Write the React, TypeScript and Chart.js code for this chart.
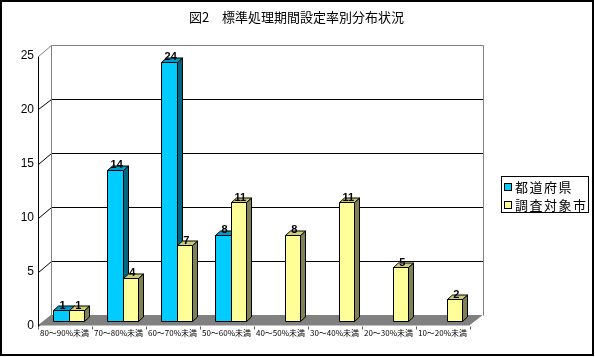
import React, { useEffect, useRef } from "react";
import { Chart, registerables } from "chart.js";

Chart.register(...registerables);

const titleText = "図2　標準処理期間設定率別分布状況";
const categories = [
  "80～90%未満",
  "70～80%未満",
  "60～70%未満",
  "50～60%未満",
  "40～50%未満",
  "30～40%未満",
  "20～30%未満",
  "10～20%未満",
];
const seriesNames = ["都道府県", "調査対象市"];
const prefectures = [1, 14, 24, 8, 0, 0, 0, 0];
const cities = [1, 4, 7, 11, 8, 11, 5, 2];
const yTicks = [0, 5, 10, 15, 20, 25];

const frontColors = ["#00CCFF", "#FFFF99"];
const sideColors = ["#006680", "#808055"];
const topColors = ["#0099CC", "#CCCC77"];

// oblique offsets for the 3D look
const FX = -4;
const FY = 4.5;
const BX = 9.5;
const BY = -6;
const BAR_DX = 5;
const BAR_DY = -4.5;

const px = (v: number) => Math.round(v) + 0.5;

function line(ctx: CanvasRenderingContext2D, x1: number, y1: number, x2: number, y2: number, color: string) {
  ctx.beginPath();
  ctx.strokeStyle = color;
  ctx.moveTo(x1, y1);
  ctx.lineTo(x2, y2);
  ctx.stroke();
}

function poly(ctx: CanvasRenderingContext2D, pts: number[][], fill: string) {
  ctx.beginPath();
  ctx.moveTo(pts[0][0], pts[0][1]);
  for (let i = 1; i < pts.length; i++) ctx.lineTo(pts[i][0], pts[i][1]);
  ctx.closePath();
  ctx.fillStyle = fill;
  ctx.fill();
  ctx.strokeStyle = "#000";
  ctx.lineWidth = 1;
  ctx.stroke();
}

const threeD = {
  id: "threeD",
  beforeDatasetsDraw(chart: any) {
    const { ctx, chartArea: ca, scales } = chart;
    const y = scales.y;
    const L = ca.left;
    const R = ca.right;
    const B = y.getPixelForValue(yTicks[0]);
    const T = y.getPixelForValue(yTicks[yTicks.length - 1]);
    ctx.save();
    ctx.lineWidth = 1;
    // back wall
    ctx.fillStyle = "#FFFFFF";
    ctx.fillRect(L + BX, T + BY, R - L, B - T);
    // back gridlines
    yTicks.forEach((v, i) => {
      if (i === 0 || i === yTicks.length - 1) return;
      const yy = px(y.getPixelForValue(v) + BY);
      line(ctx, px(L + BX), yy, px(R + BX), yy, "#000");
    });
    // side wall diagonals
    yTicks.forEach((v, i) => {
      const yp = y.getPixelForValue(v);
      line(ctx, px(L + FX), px(yp + FY), px(L + BX), px(yp + BY), i === yTicks.length - 1 ? "#808080" : "#000");
    });
    // floor
    ctx.beginPath();
    ctx.moveTo(L + FX, B + FY);
    ctx.lineTo(R + FX, B + FY);
    ctx.lineTo(R + BX, B + BY);
    ctx.lineTo(L + BX, B + BY);
    ctx.closePath();
    ctx.fillStyle = "#808080";
    ctx.fill();
    // back wall frame
    ctx.beginPath();
    ctx.strokeStyle = "#808080";
    ctx.moveTo(px(L + BX), px(B + BY));
    ctx.lineTo(px(L + BX), px(T + BY));
    ctx.lineTo(px(R + BX), px(T + BY));
    ctx.lineTo(px(R + BX), px(B + BY));
    ctx.stroke();
    // front ticks under floor
    const x = scales.x;
    const cw = x.getPixelForValue(1) - x.getPixelForValue(0);
    for (let i = 0; i <= categories.length; i++) {
      const xb = px(L + i * cw + FX);
      line(ctx, xb, px(B + FY), xb, px(B + FY + 3), "#606060");
    }
    // floor right edge highlight
    line(ctx, R + FX, B + FY + 0.5, R + BX, B + BY + 0.5, "#FFFFFF");
    // front axis line
    line(ctx, px(L + FX), px(T + FY), px(L + FX), px(B + FY), "#000");
    ctx.restore();
  },
  afterDatasetsDraw(chart: any) {
    const { ctx } = chart;
    ctx.save();
    ctx.lineWidth = 1;
    const metas = [chart.getDatasetMeta(0), chart.getDatasetMeta(1)];
    for (let i = 0; i < categories.length; i++) {
      for (let d = 0; d < 2; d++) {
        const value = chart.data.datasets[d].data[i] as number;
        if (!value) continue;
        const el: any = metas[d].data[i];
        const x0 = px(el.x - el.width / 2);
        const x1 = px(el.x + el.width / 2);
        const yT = px(el.y);
        const yB = px(el.base);
        poly(ctx, [[x0, yT], [x1, yT], [x1, yB], [x0, yB]], frontColors[d]);
        poly(ctx, [[x1, yB], [x1 + BAR_DX, yB + BAR_DY], [x1 + BAR_DX, yT + BAR_DY], [x1, yT]], sideColors[d]);
        poly(ctx, [[x0, yT], [x1, yT], [x1 + BAR_DX, yT + BAR_DY], [x0 + BAR_DX, yT + BAR_DY]], topColors[d]);
      }
      for (let d = 0; d < 2; d++) {
        const value = chart.data.datasets[d].data[i] as number;
        if (!value) continue;
        const el: any = metas[d].data[i];
        ctx.fillStyle = "#000";
        ctx.font = "bold 11px 'Liberation Sans', sans-serif";
        ctx.textAlign = "center";
        ctx.textBaseline = "middle";
        ctx.fillText(String(value), el.x + 2, el.y - 4.5);
      }
    }
    ctx.restore();
  },
};

export default function App() {
  const canvasRef = useRef<HTMLCanvasElement | null>(null);

  useEffect(() => {
    if (!canvasRef.current) return;
    const chart = new Chart(canvasRef.current, {
      type: "bar",
      data: {
        labels: categories,
        datasets: [
          {
            label: seriesNames[0],
            data: prefectures,
            backgroundColor: "rgba(0,0,0,0)",
            borderWidth: 0,
            categoryPercentage: 0.58,
            barPercentage: 1,
          },
          {
            label: seriesNames[1],
            data: cities,
            backgroundColor: "rgba(0,0,0,0)",
            borderWidth: 0,
            categoryPercentage: 0.58,
            barPercentage: 1,
          },
        ],
      },
      options: {
        responsive: false,
        animation: false,
        events: [],
        layout: { padding: { left: 0, right: 121.5, top: 51, bottom: 0 } },
        plugins: {
          legend: { display: false },
          title: { display: false },
          tooltip: { enabled: false },
        },
        scales: {
          x: {
            grid: { display: false, drawTicks: false },
            border: { display: false },
            ticks: {
              autoSkip: false,
              maxRotation: 0,
              minRotation: 0,
              padding: 7,
              labelOffset: -4,
              color: "#000",
              font: { family: "'Noto Sans CJK JP', sans-serif", size: 8 },
            },
            afterFit: (s: any) => {
              s.height = 36;
            },
          },
          y: {
            min: 0,
            max: 25,
            grid: { display: false, drawTicks: false },
            border: { display: false },
            ticks: {
              stepSize: 5,
              padding: 7.5,
              labelOffset: 5,
              color: "#000",
              font: { family: "'Liberation Sans', sans-serif", size: 12 },
            },
            afterFit: (s: any) => {
              s.width = 41.5;
            },
          },
        },
      },
      plugins: [threeD],
    });
    return () => chart.destroy();
  }, []);

  const cjk = "'Noto Sans CJK JP', sans-serif";
  return (
    <div style={{ position: "absolute", left: 0, top: 0, width: 595, height: 357, background: "#fff" }}>
      <canvas ref={canvasRef} width={595} height={357} style={{ position: "absolute", left: 0, top: 0 }} />
      <div
        style={{
          position: "absolute",
          left: 0,
          top: 8,
          width: 593,
          textAlign: "center",
          fontFamily: cjk,
          fontSize: 13,
          lineHeight: "18px",
          color: "#000",
        }}
      >
        {titleText}
      </div>
      <div
        style={{
          position: "absolute",
          left: 501,
          top: 176,
          width: 88,
          height: 37,
          boxSizing: "border-box",
          border: "1px solid #000",
          background: "#fff",
          fontFamily: cjk,
          fontSize: 13,
          color: "#000",
        }}
      >
        {seriesNames.map((name, i) => (
          <div
            key={name}
            style={{
              position: "absolute",
              left: 2,
              top: 1 + i * 18,
              height: 18,
              display: "flex",
              alignItems: "center",
              whiteSpace: "nowrap",
              letterSpacing: 1.5,
              lineHeight: "18px",
            }}
          >
            <span
              style={{
                display: "inline-block",
                width: 6,
                height: 6,
                border: "1px solid #000",
                background: frontColors[i],
                marginRight: 3,
              }}
            />
            {name}
          </div>
        ))}
      </div>
      <div
        style={{
          position: "absolute",
          left: 0,
          top: 0,
          width: 594,
          height: 356,
          boxSizing: "border-box",
          border: "2px solid #000",
          pointerEvents: "none",
        }}
      />
    </div>
  );
}
